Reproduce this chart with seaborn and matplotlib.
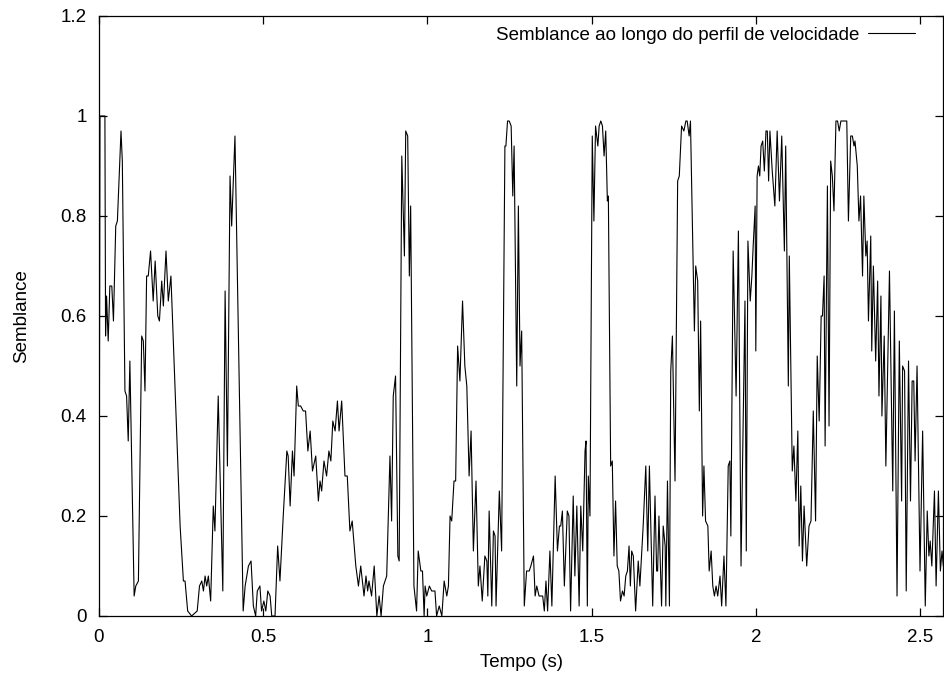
import matplotlib
matplotlib.use("Agg")
import matplotlib.pyplot as plt
import seaborn as sns
import pandas as pd
from matplotlib.ticker import FormatStrFormatter, MultipleLocator

tempo = [
    0.000, 0.003, 0.018, 0.020, 0.023, 0.028, 0.033, 0.039, 0.044, 0.051, 0.056, 0.067, 0.071, 0.079, 0.084,
    0.089, 0.094, 0.107, 0.112, 0.120, 0.130, 0.135, 0.140, 0.145, 0.150, 0.157, 0.165, 0.171, 0.179, 0.184,
    0.191, 0.196, 0.204, 0.211, 0.219,
    0.247, 0.257, 0.262, 0.270, 0.282, 0.299, 0.306, 0.313, 0.318, 0.323, 0.328, 0.333, 0.340, 0.348, 0.353,
    0.363, 0.377, 0.384, 0.391, 0.399, 0.404, 0.414,
    0.439, 0.445, 0.455, 0.463, 0.470, 0.477, 0.482, 0.490, 0.495, 0.502, 0.508, 0.514, 0.521, 0.526, 0.536,
    0.544, 0.551, 0.561, 0.572, 0.576, 0.582, 0.589, 0.594, 0.602, 0.607, 0.614, 0.622, 0.629, 0.636,
    0.643, 0.650, 0.660, 0.668, 0.673, 0.678, 0.685, 0.693, 0.700, 0.706, 0.712, 0.719, 0.726, 0.731, 0.739,
    0.749, 0.756, 0.764, 0.771, 0.782, 0.790, 0.797, 0.807, 0.813, 0.818, 0.822, 0.830, 0.838, 0.846,
    0.853, 0.859, 0.866, 0.871, 0.876, 0.881, 0.886, 0.891, 0.896, 0.903, 0.910, 0.914, 0.922, 0.930, 0.934,
    0.940, 0.945, 0.949, 0.959, 0.967, 0.972, 0.980, 0.985, 0.990, 0.993, 0.998, 1.006, 1.013, 1.023, 1.028,
    1.036, 1.044, 1.051,
    1.059, 1.064, 1.069, 1.074, 1.081, 1.086, 1.092, 1.099, 1.107, 1.114, 1.120, 1.127, 1.133, 1.140, 1.148,
    1.155, 1.160, 1.167, 1.175, 1.181, 1.184, 1.188, 1.196, 1.201, 1.206, 1.209, 1.219, 1.226, 1.236, 1.239,
    1.244, 1.249, 1.255, 1.260, 1.264, 1.272, 1.277,
    1.282, 1.287, 1.295, 1.302, 1.310, 1.315, 1.323, 1.328, 1.333, 1.340, 1.346, 1.351, 1.356, 1.361, 1.366,
    1.373, 1.379, 1.389, 1.396, 1.402, 1.406, 1.411, 1.417, 1.426, 1.431, 1.436, 1.444, 1.449, 1.455, 1.462,
    1.467, 1.473, 1.480, 1.483, 1.487,
    1.490, 1.495, 1.502, 1.507, 1.512, 1.519, 1.523, 1.528, 1.533, 1.538, 1.543, 1.548, 1.551, 1.558, 1.563,
    1.568, 1.573, 1.578, 1.583, 1.588, 1.594, 1.599, 1.604, 1.609, 1.614, 1.618, 1.622, 1.627, 1.634, 1.642,
    1.647, 1.657, 1.665, 1.671, 1.676, 1.686, 1.693, 1.698, 1.701, 1.705,
    1.713, 1.718, 1.724, 1.726, 1.731, 1.737, 1.741, 1.746, 1.754, 1.762, 1.767, 1.774, 1.781, 1.787, 1.791,
    1.797, 1.801, 1.813, 1.817, 1.823, 1.828, 1.832, 1.838, 1.842, 1.847, 1.854, 1.858, 1.864, 1.869, 1.874,
    1.879, 1.884, 1.891, 1.896, 1.903, 1.909,
    1.916, 1.921, 1.924, 1.931, 1.940, 1.947, 1.955, 1.962, 1.967, 1.971, 1.976, 1.983, 1.988, 1.992, 1.998,
    2.000, 2.004, 2.008, 2.012, 2.016, 2.021, 2.026, 2.031, 2.035, 2.039, 2.043, 2.050, 2.058, 2.065, 2.072,
    2.079, 2.087, 2.091, 2.099, 2.102, 2.111, 2.116, 2.122, 2.128, 2.132,
    2.137, 2.142, 2.147, 2.155, 2.162, 2.168, 2.175, 2.182, 2.187, 2.193, 2.199, 2.203, 2.208, 2.211, 2.218,
    2.223, 2.228, 2.233, 2.238, 2.244, 2.249, 2.254, 2.259, 2.265, 2.270, 2.277, 2.282, 2.289, 2.294, 2.299,
    2.302, 2.309, 2.314, 2.319, 2.325, 2.329, 2.335, 2.339,
    2.343, 2.350, 2.353, 2.358, 2.365, 2.371, 2.375, 2.381, 2.384, 2.391, 2.396, 2.407, 2.417, 2.422, 2.430,
    2.437, 2.444, 2.447, 2.453, 2.458, 2.465, 2.471, 2.476, 2.481, 2.485, 2.491, 2.500, 2.508, 2.516, 2.522,
    2.527, 2.531, 2.536, 2.544, 2.549, 2.556, 2.562, 2.567, 2.571,
]

semblance = [
    0.00, 1.00, 1.00, 0.56, 0.64, 0.55, 0.66, 0.66, 0.59, 0.78, 0.79, 0.97, 0.91, 0.45, 0.44,
    0.35, 0.51, 0.04, 0.06, 0.07, 0.56, 0.55, 0.45, 0.68, 0.68, 0.73, 0.63, 0.71, 0.60, 0.59,
    0.67, 0.62, 0.73, 0.63, 0.68,
    0.18, 0.07, 0.07, 0.01, 0.00, 0.01, 0.06, 0.07, 0.05, 0.08, 0.06, 0.08, 0.03, 0.22, 0.17,
    0.44, 0.05, 0.65, 0.30, 0.88, 0.78, 0.96,
    0.01, 0.06, 0.10, 0.11, 0.02, 0.00, 0.05, 0.06, 0.01, 0.03, 0.01, 0.05, 0.04, 0.00, 0.00,
    0.14, 0.07, 0.20, 0.33, 0.32, 0.22, 0.33, 0.28, 0.46, 0.42, 0.42, 0.41, 0.41, 0.33,
    0.37, 0.29, 0.32, 0.23, 0.27, 0.25, 0.31, 0.28, 0.33, 0.31, 0.39, 0.37, 0.43, 0.37, 0.43,
    0.28, 0.28, 0.17, 0.19, 0.10, 0.06, 0.10, 0.04, 0.08, 0.05, 0.07, 0.04, 0.10, 0.00,
    0.04, 0.00, 0.06, 0.07, 0.08, 0.20, 0.32, 0.19, 0.44, 0.48, 0.12, 0.11, 0.92, 0.72, 0.97,
    0.96, 0.68, 0.82, 0.06, 0.01, 0.13, 0.09, 0.09, 0.00, 0.06, 0.04, 0.06, 0.05, 0.05, 0.00,
    0.02, 0.00, 0.07,
    0.04, 0.06, 0.20, 0.19, 0.27, 0.27, 0.54, 0.47, 0.63, 0.50, 0.46, 0.28, 0.37, 0.13, 0.27,
    0.06, 0.10, 0.03, 0.12, 0.11, 0.04, 0.21, 0.02, 0.17, 0.16, 0.02, 0.25, 0.13, 0.94, 0.94,
    0.99, 0.99, 0.98, 0.84, 0.94, 0.46, 0.82,
    0.50, 0.57, 0.02, 0.09, 0.09, 0.10, 0.12, 0.04, 0.06, 0.04, 0.04, 0.04, 0.01, 0.07, 0.01,
    0.13, 0.02, 0.28, 0.13, 0.18, 0.18, 0.21, 0.06, 0.21, 0.20, 0.01, 0.24, 0.08, 0.22, 0.02,
    0.22, 0.13, 0.33, 0.35, 0.02,
    0.28, 0.20, 0.96, 0.79, 0.98, 0.94, 0.98, 0.99, 0.98, 0.92, 0.97, 0.83, 0.84, 0.30, 0.31,
    0.12, 0.23, 0.10, 0.09, 0.03, 0.05, 0.04, 0.08, 0.09, 0.14, 0.06, 0.13, 0.12, 0.01, 0.11,
    0.06, 0.18, 0.30, 0.13, 0.30, 0.02, 0.24, 0.09, 0.09, 0.20,
    0.02, 0.18, 0.14, 0.02, 0.27, 0.02, 0.49, 0.56, 0.27, 0.87, 0.88, 0.98, 0.97, 0.99, 0.99,
    0.96, 0.99, 0.57, 0.70, 0.67, 0.41, 0.59, 0.20, 0.30, 0.19, 0.18, 0.09, 0.13, 0.06, 0.04,
    0.06, 0.04, 0.08, 0.02, 0.12, 0.02,
    0.30, 0.31, 0.16, 0.73, 0.44, 0.77, 0.10, 0.41, 0.63, 0.13, 0.75, 0.63, 0.68, 0.74, 0.82,
    0.53, 0.88, 0.90, 0.88, 0.94, 0.95, 0.89, 0.97, 0.97, 0.87, 0.97, 0.89, 0.82, 0.97, 0.83,
    0.96, 0.73, 0.94, 0.46, 0.72, 0.29, 0.34, 0.23, 0.37, 0.14,
    0.26, 0.11, 0.22, 0.10, 0.18, 0.19, 0.41, 0.19, 0.52, 0.39, 0.60, 0.60, 0.68, 0.34, 0.86,
    0.38, 0.91, 0.88, 0.81, 0.99, 0.99, 0.97, 0.99, 0.99, 0.99, 0.99, 0.79, 0.96, 0.96, 0.94,
    0.95, 0.90, 0.79, 0.84, 0.68, 0.84, 0.72, 0.75,
    0.59, 0.76, 0.53, 0.70, 0.51, 0.67, 0.44, 0.64, 0.40, 0.56, 0.30, 0.69, 0.25, 0.61, 0.04,
    0.55, 0.23, 0.50, 0.49, 0.05, 0.51, 0.23, 0.47, 0.47, 0.31, 0.50, 0.09, 0.37, 0.02, 0.21,
    0.12, 0.15, 0.10, 0.25, 0.06, 0.25, 0.09, 0.13, 0.10,
]

series_label = "Semblance ao longo do perfil de velocidade"
x_label = "Tempo (s)"
y_label = "Semblance"

df = pd.DataFrame({"Tempo": tempo, "Semblance": semblance})

sns.set_theme(style="ticks")
plt.rcParams["font.family"] = ["Liberation Sans", "DejaVu Sans"]
FS = 13.5

fig = plt.figure(figsize=(9.44, 6.77), dpi=100)
ax = fig.add_axes([99 / 944, 1 - 616 / 677, (943 - 99) / 944, (616 - 16) / 677])

sns.lineplot(data=df, x="Tempo", y="Semblance", color="black", linewidth=0.8,
             estimator=None, sort=False, label=series_label, ax=ax)

ax.set_xlim(0, 2.57)
ax.set_ylim(0, 1.2)
ax.xaxis.set_major_locator(MultipleLocator(0.5))
ax.yaxis.set_major_locator(MultipleLocator(0.2))
ax.xaxis.set_major_formatter(FormatStrFormatter("%g"))
ax.yaxis.set_major_formatter(FormatStrFormatter("%g"))
ax.tick_params(direction="in", length=6, width=0.9, top=True, right=True,
               labelsize=FS, colors="black", pad=9)
for s in ax.spines.values():
    s.set_linewidth(0.9)
    s.set_color("black")
ax.set_xlabel(x_label, fontsize=FS, color="black", labelpad=6)
ax.set_ylabel(y_label, fontsize=FS, color="black", labelpad=22)

leg = ax.legend(loc="upper right", frameon=False, markerfirst=False, fontsize=FS,
                handlelength=2.5, handletextpad=0.45, borderpad=0, borderaxespad=0,
                bbox_to_anchor=(0.967, 0.982))
for t in leg.get_texts():
    t.set_color("black")

fig.savefig("out.png", dpi=100)
